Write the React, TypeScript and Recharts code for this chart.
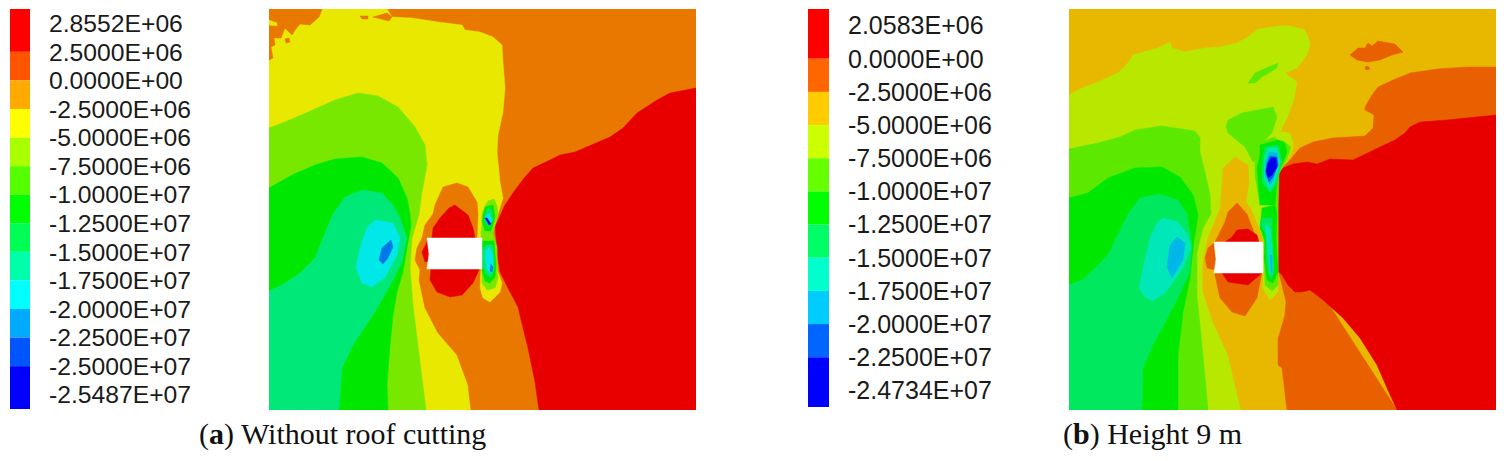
import { Bar, BarChart, Scatter, ScatterChart, XAxis, YAxis } from 'recharts';

type Pt = [number, number];

// Legend labels and band widths, read top to bottom
const labelsA = ['2.8552E+06', '2.5000E+06', '0.0000E+00', '-2.5000E+06', '-5.0000E+06', '-7.5000E+06', '-1.0000E+07', '-1.2500E+07', '-1.5000E+07', '-1.7500E+07', '-2.0000E+07', '-2.2500E+07', '-2.5000E+07', '-2.5487E+07'];
const bandsA = [1.5, 1, 1, 1, 1, 1, 1, 1, 1, 1, 1, 1, 1.5];
const coloursA = ['#ff0000', '#ff5500', '#ffaa00', '#ffff00', '#aaff00', '#55ff00', '#00ff00', '#00ff55', '#00ffaa', '#00ffff', '#00aaff', '#0055ff', '#0000ff'];

const labelsB = ['2.0583E+06', '0.0000E+00', '-2.5000E+06', '-5.0000E+06', '-7.5000E+06', '-1.0000E+07', '-1.2500E+07', '-1.5000E+07', '-1.7500E+07', '-2.0000E+07', '-2.2500E+07', '-2.4734E+07'];
const bandsB = [1.5, 1, 1, 1, 1, 1, 1, 1, 1, 1, 1.5];
const coloursB = ['#ff0000', '#ff6600', '#ffcc00', '#ccff00', '#66ff00', '#00ff00', '#00ff66', '#00ffcc', '#00ccff', '#0066ff', '#0000ff'];

// Contour outlines, in model units over a 427 x 401 section
const full: Pt[] = [[0, 0], [427, 0], [427, 401], [0, 401]];

const aYellow: Pt[] = [[0, 0], [118, 0], [123, 8], [143, 9], [169, 13], [193, 16], [196, 21], [211, 23], [224, 28], [233, 36], [234, 53], [236, 79], [234, 103], [229, 126], [228, 143], [231, 173], [234, 189], [229, 205], [222, 230], [210, 260], [190, 270], [202, 401], [0, 401]];
const aTopLeft: Pt[] = [[0, 0], [53, 0], [50, 8], [41, 16], [31, 15], [26, 21], [23, 26], [16, 19], [12, 29], [5, 29], [6, 36], [2, 38], [4, 49], [0, 51]];
const aSliver: Pt[] = [[0, 11], [8, 14], [8, 17], [0, 16]];
const aSpot: Pt[] = [[16, 30], [20, 29], [21, 33], [17, 34]];
const aStreak1: Pt[] = [[91, 7], [99, 7], [99, 10], [93, 10]];
const aStreak2: Pt[] = [[104, 8], [118, 4], [123, 8], [120, 12], [112, 10]];
const aCentre: Pt[] = [[188, 174], [199, 178], [208, 193], [209, 205], [208, 229], [214, 262], [230, 262], [239, 279], [249, 298], [254, 319], [259, 339], [266, 373], [270, 401], [202, 401], [199, 376], [188, 346], [169, 324], [156, 299], [150, 271], [151, 261], [146, 251], [148, 239], [153, 229], [156, 216], [164, 205], [166, 196], [174, 178]];
const aRed: Pt[] = [[427, 79], [401, 84], [388, 91], [368, 104], [354, 119], [341, 128], [306, 143], [291, 146], [279, 152], [264, 159], [256, 168], [246, 181], [236, 196], [226, 218], [229, 249], [231, 263], [239, 279], [249, 298], [254, 319], [259, 339], [266, 373], [270, 401], [427, 401]];
const aLime: Pt[] = [[0, 119], [16, 113], [39, 103], [66, 91], [89, 84], [109, 87], [129, 98], [146, 118], [156, 136], [158, 156], [153, 183], [150, 205], [146, 219], [143, 229], [141, 259], [144, 296], [148, 329], [157, 401], [0, 401]];
const aGreen: Pt[] = [[0, 179], [23, 166], [46, 156], [66, 150], [93, 148], [113, 154], [129, 169], [138, 189], [141, 205], [142, 216], [138, 239], [134, 263], [128, 283], [124, 306], [121, 336], [118, 376], [119, 401], [0, 401]];
const aSpring: Pt[] = [[93, 181], [113, 184], [124, 196], [131, 209], [138, 229], [133, 253], [124, 271], [106, 303], [84, 336], [73, 359], [70, 401], [0, 401], [0, 282], [13, 276], [31, 264], [46, 249], [58, 219], [64, 205], [76, 188]];
const aCyan: Pt[] = [[106, 211], [124, 214], [131, 229], [128, 246], [116, 268], [103, 278], [93, 274], [87, 259], [91, 239], [98, 219]];
const aBlue: Pt[] = [[122, 231], [124, 238], [119, 249], [114, 255], [110, 251], [113, 239]];
const aDome: Pt[] = [[186, 196], [199, 206], [204, 219], [206, 229], [210, 261], [204, 274], [193, 286], [181, 288], [168, 283], [161, 271], [162, 259], [163, 229], [164, 219], [171, 209], [180, 199]];
const aDomeLeft: Pt[] = [[159, 231], [153, 243], [156, 253], [160, 252]];
const aStackYellow: Pt[] = [[212, 259], [211, 279], [214, 289], [221, 293], [231, 283], [233, 274], [229, 263], [226, 240], [220, 225], [212, 229]];
const aStackLime: Pt[] = [[219, 192], [225, 190], [228, 197], [229, 205], [226, 215], [224, 224], [228, 238], [228, 256], [229, 269], [226, 279], [218, 281], [213, 274], [213, 260], [212, 232], [212, 224], [213, 215], [213, 205], [216, 197]];
const aStackGreen1: Pt[] = [[216, 198], [224, 196], [226, 208], [222, 222], [216, 222], [213, 212]];
const aStackSpring1: Pt[] = [[218, 200], [222, 200], [224, 210], [220, 218], [215, 212]];
const aStackCyan1: Pt[] = [[216, 207], [220, 204], [223, 212], [220, 216]];
const aStackBlue1: Pt[] = [[216, 209], [218, 209], [222, 215], [220, 216]];
const aStackGreen2: Pt[] = [[213, 232], [225, 232], [226, 245], [227, 258], [226, 268], [221, 274], [216, 272], [213, 262]];
const aStackSpring2: Pt[] = [[217, 236], [224, 236], [225, 250], [225, 262], [221, 268], [217, 265], [214, 258], [214, 240]];
const aStackCyan2: Pt[] = [[220, 238], [224, 246], [224, 258], [222, 265], [218, 260], [216, 250], [217, 242]];
const aStackBlue2: Pt[] = [[222, 255], [224, 258], [223, 263], [221, 262]];
const aOpening: Pt[] = [[158, 229], [213, 229], [213, 260], [158, 260], [160, 245]];

const bLime: Pt[] = [[0, 86], [13, 79], [29, 73], [49, 64], [59, 54], [64, 46], [89, 39], [101, 33], [103, 39], [116, 43], [136, 39], [151, 38], [168, 34], [179, 28], [189, 20], [211, 17], [221, 17], [236, 21], [241, 34], [238, 46], [228, 59], [216, 64], [228, 73], [224, 93], [218, 109], [211, 123], [221, 124], [224, 133], [223, 143], [216, 156], [213, 161], [180, 200], [172, 401], [0, 401]];
const bIsland: Pt[] = [[281, 46], [289, 39], [296, 39], [299, 34], [303, 37], [309, 32], [326, 35], [334, 43], [323, 46], [311, 51], [299, 53], [288, 51]];
const bIslandSpot: Pt[] = [[296, 58], [299, 57], [301, 60], [297, 61]];
const bOrangeTop: Pt[] = [[427, 58], [398, 58], [368, 60], [341, 64], [324, 71], [309, 78], [303, 86], [296, 98], [296, 101], [305, 106], [304, 119], [296, 127], [264, 129], [244, 133], [231, 139], [221, 151], [214, 158], [214, 200], [427, 200]];
const bAmberCentre: Pt[] = [[166, 148], [179, 156], [180, 173], [177, 193], [200, 230], [211, 268], [217, 293], [216, 306], [209, 330], [209, 356], [213, 359], [218, 401], [172, 401], [159, 346], [144, 313], [134, 283], [134, 253], [139, 229], [151, 200], [153, 176], [154, 159]];
const bOrangeLow: Pt[] = [[209, 262], [250, 280], [328, 401], [218, 401], [213, 359], [209, 356], [209, 330], [216, 306], [217, 293], [211, 268]];
const bRed: Pt[] = [[427, 106], [378, 111], [351, 113], [341, 118], [336, 124], [326, 131], [311, 138], [284, 151], [261, 150], [248, 155], [238, 153], [224, 155], [214, 159], [209, 163], [209, 262], [213, 266], [219, 276], [226, 283], [233, 283], [241, 281], [254, 291], [274, 309], [291, 329], [308, 356], [318, 379], [328, 401], [427, 401]];
const bStackLime: Pt[] = [[181, 160], [209, 161], [209, 283], [201, 291], [194, 279], [194, 229], [181, 196]];
const bUpper: Pt[] = [[159, 111], [173, 104], [204, 98], [208, 108], [203, 124], [193, 134], [191, 149], [184, 153], [176, 138], [159, 124], [157, 118]];
const bSliver: Pt[] = [[179, 74], [186, 64], [209, 54], [208, 59], [193, 68], [186, 74]];
const bLeaf: Pt[] = [[0, 140], [29, 134], [51, 128], [66, 121], [93, 117], [126, 122], [131, 129], [131, 143], [136, 163], [141, 186], [142, 205], [134, 219], [128, 243], [128, 286], [134, 346], [139, 401], [0, 401]];
const bGreen: Pt[] = [[0, 189], [19, 184], [39, 169], [66, 159], [93, 158], [111, 168], [124, 186], [129, 205], [128, 213], [124, 239], [121, 269], [114, 303], [109, 346], [109, 401], [0, 401]];
const bSpring: Pt[] = [[89, 185], [109, 191], [118, 205], [121, 223], [123, 239], [121, 263], [109, 289], [84, 336], [74, 359], [73, 401], [0, 401], [0, 276], [13, 271], [26, 259], [39, 246], [59, 205], [71, 189]];
const bTeal: Pt[] = [[94, 209], [109, 213], [119, 226], [122, 239], [114, 259], [96, 284], [84, 292], [76, 288], [70, 279], [74, 259], [81, 229], [88, 214]];
const bSky: Pt[] = [[108, 228], [116, 234], [114, 251], [103, 269], [98, 258], [101, 236]];
const bCore: Pt[] = [[168, 194], [178, 205], [181, 213], [189, 233], [193, 263], [188, 289], [176, 307], [163, 303], [151, 289], [146, 266], [146, 233], [156, 213], [159, 203]];
const bCoreRedUp: Pt[] = [[168, 221], [179, 220], [188, 226], [190, 233], [156, 233], [163, 228]];
const bCoreRedDown: Pt[] = [[153, 264], [193, 264], [179, 276], [159, 273]];
const bCoreLeft: Pt[] = [[139, 239], [146, 233], [146, 261], [138, 259], [136, 249]];
const bLeaf1: Pt[] = [[186, 136], [205, 128], [209, 131], [214, 132], [222, 138], [218, 150], [210, 165], [209, 196], [191, 196], [186, 166]];
const bGreen1: Pt[] = [[191, 136], [209, 131], [216, 134], [218, 143], [214, 153], [209, 163], [206, 196], [191, 196], [188, 159], [191, 146]];
const bSpring1: Pt[] = [[196, 138], [209, 136], [213, 153], [207, 176], [201, 184], [193, 173], [193, 153]];
const bTeal1: Pt[] = [[199, 139], [208, 139], [211, 153], [206, 173], [201, 181], [195, 169], [196, 149]];
const bSky1: Pt[] = [[200, 143], [208, 144], [209, 154], [205, 169], [201, 176], [196, 166], [197, 153]];
const bAzure1: Pt[] = [[201, 147], [208, 148], [209, 156], [204, 168], [200, 173], [197, 163], [198, 154]];
const bBlue1: Pt[] = [[202, 149], [207, 149], [208, 158], [203, 166], [199, 169], [197, 162], [199, 154]];
const bLeaf2: Pt[] = [[195, 236], [193, 200], [209, 196], [209, 276], [203, 282], [196, 276]];
const bGreen2: Pt[] = [[193, 199], [206, 196], [208, 206], [207, 229], [209, 263], [204, 274], [198, 271], [195, 249], [196, 233], [191, 219]];
const bSpring2: Pt[] = [[193, 209], [203, 209], [203, 226], [205, 259], [202, 271], [198, 259], [197, 239], [199, 228], [191, 216]];
const bTeal2: Pt[] = [[196, 216], [201, 219], [203, 239], [204, 266], [201, 264], [199, 246]];
const bSky2: Pt[] = [[201, 246], [203, 246], [203, 264], [202, 261]];
const bOpening: Pt[] = [[145, 233], [194, 233], [194, 264], [145, 264], [147, 250]];

const RED = '#e80000';
const ORANGE_A = '#e87800';
const YELLOW = '#e8e800';
const LIME_A = '#78e800';
const GREEN = '#00e800';
const SPRING_A = '#00e878';
const CYAN = '#00e8e8';
const BLUE_A = '#0078e8';
const DEEP = '#0000e8';

const ORANGE_B = '#e86000';
const AMBER = '#e8b800';
const LIME_B = '#b8e800';
const LEAF = '#5de800';
const SPRING_B = '#00e85d';
const TEAL = '#00e8b8';
const SKY = '#00b8e8';
const AZURE = '#005de8';

// Painted back to front
const layersA: [Pt[], string][] = [
  [full, ORANGE_A], [aYellow, YELLOW], [aTopLeft, ORANGE_A], [aSliver, YELLOW], [aSpot, ORANGE_A], [aStreak1, ORANGE_A], [aStreak2, ORANGE_A],
  [aCentre, ORANGE_A], [aRed, RED], [aLime, LIME_A], [aGreen, GREEN], [aSpring, SPRING_A], [aCyan, CYAN], [aBlue, BLUE_A],
  [aDome, RED], [aDomeLeft, RED], [aStackYellow, YELLOW], [aStackLime, LIME_A],
  [aStackGreen1, GREEN], [aStackSpring1, SPRING_A], [aStackCyan1, CYAN], [aStackBlue1, DEEP],
  [aStackGreen2, GREEN], [aStackSpring2, SPRING_A], [aStackCyan2, CYAN], [aStackBlue2, BLUE_A], [aOpening, '#ffffff'],
];

const layersB: [Pt[], string][] = [
  [full, AMBER], [bLime, LIME_B], [bIsland, ORANGE_B], [bIslandSpot, ORANGE_B], [bOrangeTop, ORANGE_B], [bAmberCentre, AMBER], [bOrangeLow, ORANGE_B], [bRed, RED],
  [bStackLime, LIME_B], [bUpper, LEAF], [bSliver, LEAF], [bLeaf, LEAF], [bGreen, GREEN], [bSpring, SPRING_B], [bTeal, TEAL], [bSky, SKY],
  [bCore, ORANGE_B], [bCoreRedUp, RED], [bCoreRedDown, RED], [bCoreLeft, ORANGE_B],
  [bLeaf1, LEAF], [bGreen1, GREEN], [bSpring1, SPRING_B], [bTeal1, TEAL], [bSky1, SKY], [bAzure1, AZURE], [bBlue1, DEEP],
  [bLeaf2, LEAF], [bGreen2, GREEN], [bSpring2, SPRING_B], [bTeal2, TEAL], [bSky2, SKY], [bOpening, '#ffffff'],
];

function Contour({ layers, left }: { layers: [Pt[], string][]; left: number }) {
  return (
    <div style={{ position: 'absolute', left, top: 9 }}>
      <ScatterChart width={427} height={401} margin={{ top: 0, right: 0, bottom: 0, left: 0 }}>
        <XAxis type="number" dataKey="x" domain={[0, 427]} hide />
        <YAxis type="number" dataKey="y" domain={[0, 401]} reversed hide />
        {layers.map(([pts, fill], i) => (
          <Scatter
            key={i}
            data={pts.map(([x, y]) => ({ x, y }))}
            isAnimationActive={false}
            shape={() => <g />}
            line={{ fill, stroke: fill, strokeWidth: 0.5 }}
            lineType="joint"
            lineJointType="linearClosed"
          />
        ))}
      </ScatterChart>
    </div>
  );
}

function ColourScale({ labels, bands, colours, left, barWidth, height, fontSize }: { labels: string[]; bands: number[]; colours: string[]; left: number; barWidth: number; height: number; fontSize: number }) {
  const row: Record<string, number | string> = { name: 'scale' };
  bands.forEach((b, i) => { row[`s${i}`] = b; });
  return (
    <div style={{ position: 'absolute', left, top: 0 }}>
      <BarChart width={barWidth + 190} height={height + 9} data={[row]} barCategoryGap={0} margin={{ top: 9, right: 0, bottom: 0, left: 0 }}>
        <XAxis dataKey="name" hide />
        <YAxis
          type="number"
          orientation="right"
          reversed
          width={190}
          domain={[0, labels.length]}
          ticks={labels.map((_, i) => i + 0.5)}
          interval={0}
          tickFormatter={(_: number, i: number) => labels[i]}
          axisLine={false}
          tickLine={false}
          tickSize={0}
          tickMargin={19}
          tick={{ fontSize, fontFamily: 'Liberation Sans', fill: '#1a1a1a' }}
        />
        {bands.map((_, i) => (
          <Bar key={i} dataKey={`s${i}`} stackId="scale" fill={colours[i]} isAnimationActive={false} />
        ))}
      </BarChart>
    </div>
  );
}

function Caption({ tag, text, left }: { tag: string; text: string; left: number }) {
  return (
    <div style={{ position: 'absolute', left, top: 417, fontFamily: 'Liberation Serif', fontSize: 30, color: '#111', whiteSpace: 'nowrap' }}>
      (<b>{tag}</b>) {text}
    </div>
  );
}

export default function App() {
  return (
    <div style={{ position: 'absolute', left: 0, top: 0, width: 1504, height: 461, overflow: 'hidden', background: '#fff' }}>
      <ColourScale labels={labelsA} bands={bandsA} colours={coloursA} left={10} barWidth={20} height={400} fontSize={24.7} />
      <Contour layers={layersA} left={269} />
      <Caption tag="a" text="Without roof cutting" left={199} />
      <ColourScale labels={labelsB} bands={bandsB} colours={coloursB} left={808} barWidth={21} height={398} fontSize={25} />
      <Contour layers={layersB} left={1069} />
      <Caption tag="b" text="Height 9 m" left={1063} />
    </div>
  );
}
